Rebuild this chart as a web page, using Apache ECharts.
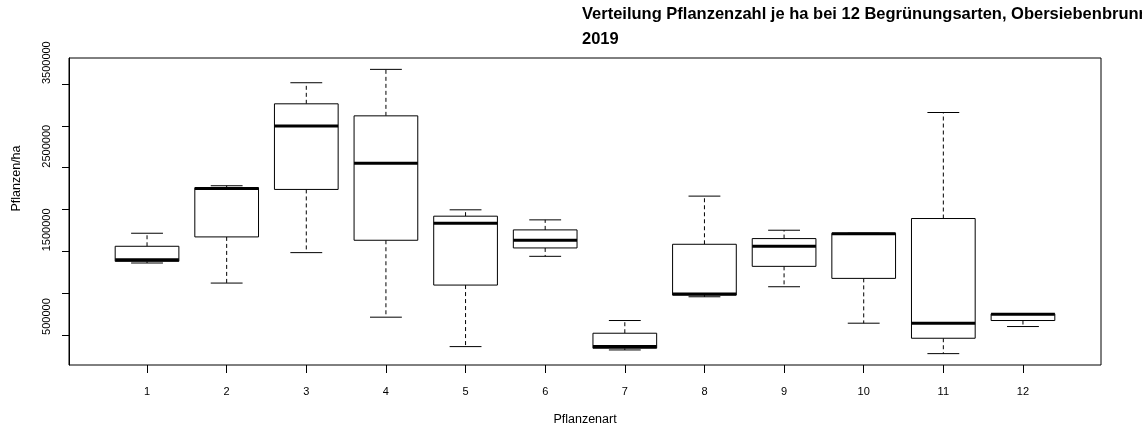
<!DOCTYPE html>
<html>
<head>
<meta charset="utf-8">
<script src="https://cdn.jsdelivr.net/npm/echarts@6/dist/echarts.min.js"></script>
<style>html,body{margin:0;padding:0;background:#fff;overflow:hidden}#c{width:1142px;height:432px}</style>
</head>
<body>
<div id="c"></div>
<script>
// ---- data ----
const categories = ['1','2','3','4','5','6','7','8','9','10','11','12'];
const lowerWhisker = [1360000, 1120000, 1484000, 712000, 360000, 1440000, 320000, 956000, 1076000, 640000, 276000, 600000];
const q1Values     = [1380000, 1672000, 2240000, 1632000, 1096000, 1540000, 340000, 976000, 1320000, 1176000, 460000, 672000];
const medianValues = [1400000, 2250000, 3000000, 2552000, 1836000, 1632000, 360000, 988000, 1560000, 1710000, 640000, 748000];
const q3Values     = [1560000, 2260000, 3264000, 3120000, 1920000, 1756000, 520000, 1584000, 1652000, 1716000, 1892000, 752000];
const upperWhisker = [1716000, 2284000, 3516000, 3676000, 1996000, 1876000, 672000, 2160000, 1752000, 1716000, 3160000, 752000];
const yTickValues  = [500000, 1000000, 1500000, 2000000, 2500000, 3000000, 3500000];
const yLabelValues = [500000, 1500000, 2500000, 3500000];
const titleText = 'Verteilung Pflanzenzahl je ha bei 12 Begrünungsarten, Obersiebenbrunn\n2019';
const xTitle = 'Pflanzenart';
const yTitle = 'Pflanzen/ha';

// ---- layout ----
const FONT = '"Liberation Sans", Arial, Helvetica, sans-serif';
const plotLeft = 69, plotTop = 58, plotW = 1032, plotH = 307;
const n = categories.length;
const unit = plotW / (n * 1.08);           // R extends the x range by 4% on each side
const innerLeft = plotLeft + (plotW - n * unit) / 2;
const lo = Math.min(...lowerWhisker), hi = Math.max(...upperWhisker);
const pad = 0.04 * (hi - lo);
const yMin = lo - pad, yMax = hi + pad;

const boxData = categories.map((c, i) => [i, lowerWhisker[i], q1Values[i], medianValues[i], q3Values[i], upperWhisker[i]]);

function renderBox(params, api) {
  const i = api.value(0);
  const band = api.size([1, 0])[0];
  const bw = band * 0.8, cw = band * 0.4;
  const pLow = api.coord([i, api.value(1)]);
  const pQ1 = api.coord([i, api.value(2)]);
  const pMed = api.coord([i, api.value(3)]);
  const pQ3 = api.coord([i, api.value(4)]);
  const pHigh = api.coord([i, api.value(5)]);
  const x = pMed[0];
  const line = (x1, y1, x2, y2, w, dash) => ({
    type: 'line',
    shape: { x1, y1, x2, y2 },
    style: { stroke: '#000', lineWidth: w, lineDash: dash || null, lineCap: 'butt' }
  });
  return {
    type: 'group',
    children: [
      line(x, pQ1[1], x, pLow[1], 1, [4, 3]),
      line(x, pQ3[1], x, pHigh[1], 1, [4, 3]),
      line(x - cw / 2, pLow[1], x + cw / 2, pLow[1], 1),
      line(x - cw / 2, pHigh[1], x + cw / 2, pHigh[1], 1),
      {
        type: 'rect',
        shape: { x: x - bw / 2, y: pQ3[1], width: bw, height: pQ1[1] - pQ3[1] },
        style: { fill: '#fff', stroke: '#000', lineWidth: 1 }
      },
      line(x - bw / 2, pMed[1], x + bw / 2, pMed[1], 3)
    ]
  };
}

const chart = echarts.init(document.getElementById('c'), null, { renderer: 'canvas' });
chart.setOption({
  animation: false,
  backgroundColor: '#fff',
  title: {
    text: titleText,
    left: 582, top: 2, padding: 0,
    textStyle: { fontFamily: FONT, fontSize: 16.5, fontWeight: 'bold', color: '#000', lineHeight: 25 }
  },
  grid: [
    { left: plotLeft, top: plotTop, width: plotW, height: plotH, show: true, borderColor: '#000', borderWidth: 1, backgroundColor: 'transparent', containLabel: false, outerBoundsMode: 'none' },
    { left: innerLeft, top: plotTop, width: n * unit, height: plotH, show: false, containLabel: false, outerBoundsMode: 'none' }
  ],
  xAxis: [
    { type: 'value', gridIndex: 0, min: 0, max: 1, show: false },
    {
      type: 'category', gridIndex: 1, data: categories, boundaryGap: true,
      axisLine: { show: false },
      axisTick: { show: true, alignWithLabel: true, length: 8, lineStyle: { color: '#000', width: 1 } },
      axisLabel: { color: '#000', fontFamily: FONT, fontSize: 11, margin: 21, interval: 0 },
      splitLine: { show: false },
      name: xTitle, nameLocation: 'middle', nameGap: 48,
      nameTextStyle: { color: '#000', fontFamily: FONT, fontSize: 12.5 }
    }
  ],
  yAxis: [
    {
      type: 'value', gridIndex: 0, min: yMin, max: yMax,
      axisLine: { show: true, lineStyle: { color: '#000', width: 1 } },
      axisTick: { show: true, length: 7, customValues: yTickValues, lineStyle: { color: '#000', width: 1 } },
      axisLabel: { color: '#000', fontFamily: FONT, fontSize: 11, rotate: 90, align: 'left', margin: 17, customValues: yLabelValues, formatter: v => String(v) },
      splitLine: { show: false },
      name: yTitle, nameLocation: 'middle', nameGap: 46, nameRotate: 90,
      nameTextStyle: { color: '#000', fontFamily: FONT, fontSize: 12.5, align: 'left' }
    },
    { type: 'value', gridIndex: 1, min: yMin, max: yMax, show: false }
  ],
  series: [{
    type: 'custom',
    xAxisIndex: 1, yAxisIndex: 1,
    data: boxData,
    encode: { x: 0, y: [1, 2, 3, 4, 5] },
    renderItem: renderBox,
    clip: false
  }]
});
</script>
</body>
</html>
